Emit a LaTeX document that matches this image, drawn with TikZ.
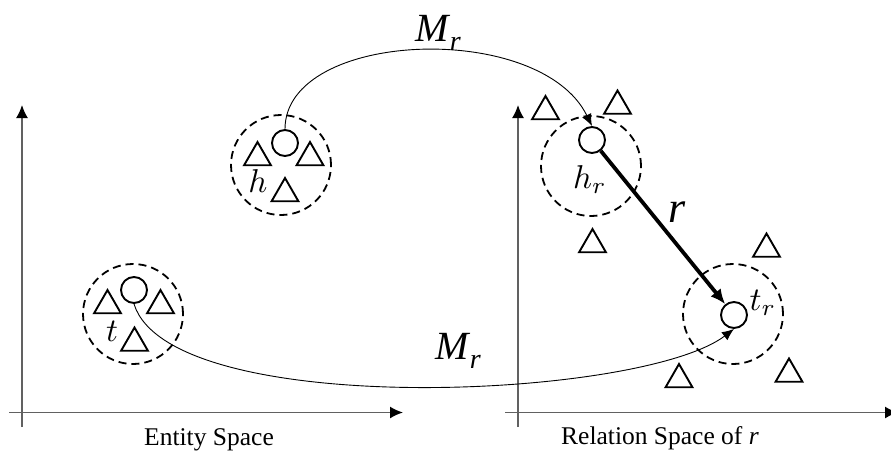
\documentclass[tikz,border=0pt]{standalone}
\usepackage{fontspec}
\setmainfont{Liberation Serif}
\usetikzlibrary{arrows.meta,shapes.geometric}
\newcommand{\MyMr}{\textit{M}\kern-0.5pt\raisebox{-0.22em}{\fontsize{28}{28}\selectfont\textit{r}}}
\newcommand{\BigMath}[1]{\scalebox{3.3}{\normalsize$#1$}}
\begin{document}
\begin{tikzpicture}[x=1pt,y=-1pt,
  axisline/.style={draw=black!62, line width=1.6pt, -{Latex[length=13pt,width=12pt,color=black]}},
  tri/.style={draw, line width=1.9pt, regular polygon, regular polygon sides=3, minimum size=31pt, inner sep=0pt, line join=miter},
  ent/.style={draw, circle, line width=1.9pt, minimum size=26pt, inner sep=0pt},
  region/.style={draw, circle, line width=1.8pt, minimum size=100pt, inner sep=0pt, dash pattern=on 8pt off 5pt},
  maplink/.style={draw, line width=0.9pt, -{Latex[length=12pt,width=10pt]}},
  rel/.style={draw, line width=3.8pt, -{Latex[length=15pt,width=13pt]}},
  mathlbl/.style={inner sep=0pt},
  maplbl/.style={inner sep=0pt, font=\fontsize{40}{40}\selectfont},
  rlbl/.style={inner sep=0pt, font=\fontsize{44}{44}\selectfont},
  caption/.style={inner sep=0pt, font=\fontsize{25.5}{25.5}\selectfont}]
\useasboundingbox (0,0) rectangle (891,456);

% axes
\coordinate (lxs) at (9,412.5);
\coordinate (lxe) at (403,412.5);
\coordinate (lys) at (22,427);
\coordinate (lye) at (22,105);
\coordinate (rxs) at (505,412.5);
\coordinate (rxe) at (898,412.5);
\coordinate (rys) at (518,427);
\coordinate (rye) at (518,105);
\draw[axisline] (lxs) -- (lxe);
\draw[axisline] (lys) -- (lye);
\draw[axisline] (rxs) -- (rxe);
\draw[axisline] (rys) -- (rye);

% dashed regions
\node[region] (hd) at (281,165) {};
\node[region] (td) at (133,314) {};
\node[region] (hrd) at (591,166) {};
\node[region] (trd) at (733,314) {};

% entities
\node[ent] (hc) at (285,143) {};
\node[ent] (tc) at (134,290) {};
\node[ent] (hrc) at (592,140) {};
\node[ent] (trc) at (734,315) {};

% triangles
\node[tri] (a1) at (257.5,157.5) {};
\node[tri] (a2) at (310,157.5) {};
\node[tri] (a3) at (285,193.5) {};
\node[tri] (b1) at (107.5,305.5) {};
\node[tri] (b2) at (160.5,305.5) {};
\node[tri] (b3) at (134.5,343) {};
\node[tri] (c1) at (545.5,111.5) {};
\node[tri] (c2) at (617.5,106) {};
\node[tri] (c3) at (592.5,244.5) {};
\node[tri] (c4) at (766.5,249) {};
\node[tri] (c5) at (679,379.5) {};
\node[tri] (c6) at (789,374) {};

% labels
\node[mathlbl] (hl) at (258,181) {\BigMath{h}};
\node[mathlbl] (tl) at (112,331) {\BigMath{t}};
\node[mathlbl] (hrl) at (590,180) {\BigMath{h_r}};
\node[mathlbl] (trl) at (763,303) {\BigMath{t_r}};
\node[rlbl] (rl) at (677,212) {\textit{r}};
\node[maplbl] (m1) at (438,33) {\MyMr};
\node[maplbl] (m2) at (458,351) {\MyMr};
\node[caption] (cap1) at (209,440) {Entity Space};
\node[caption] (cap2) at (660,438) {Relation Space of \textit{r}};

% connectors
\draw[maplink] (hc.north) .. controls (285,30) and (540,20) .. (hrc.north);
\draw[maplink] (tc.south) .. controls (170,420) and (640,400) .. (trc.south);
\draw[rel] (hrc) -- (trc);
\end{tikzpicture}
\end{document}
